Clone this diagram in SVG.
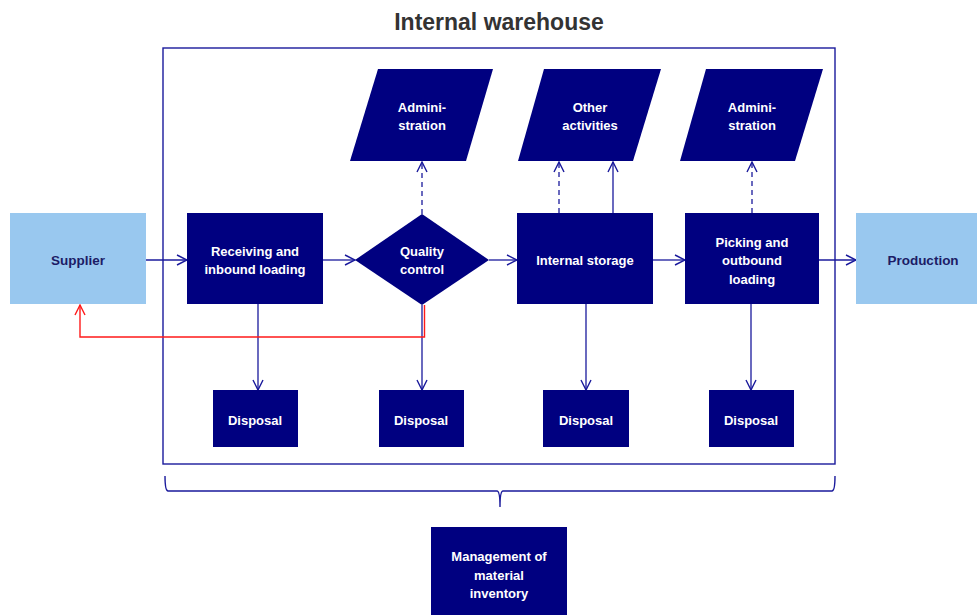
<svg xmlns="http://www.w3.org/2000/svg" width="977" height="615" viewBox="0 0 977 615">
  <defs>
    <marker id="arrow" viewBox="0 0 12 12" refX="11" refY="6" markerWidth="12" markerHeight="12" markerUnits="userSpaceOnUse" orient="auto">
      <path d="M1,1 L11,6 L1,11" fill="none" stroke="#1a1a9c" stroke-width="1.4"/>
    </marker>
    <marker id="arrow-red" viewBox="0 0 12 12" refX="11" refY="6" markerWidth="12" markerHeight="12" markerUnits="userSpaceOnUse" orient="auto">
      <path d="M1,1 L11,6 L1,11" fill="none" stroke="#ff1a1a" stroke-width="1.4"/>
    </marker>
  </defs>
  <style>
    .dark { fill: #000080; }
    .light { fill: #99c8ef; }
    .wt { fill: #ffffff; font-family: "Liberation Sans", Arial, sans-serif; font-weight: bold; font-size: 13px; text-anchor: middle; }
    .nt { fill: #1c1c66; font-family: "Liberation Sans", Arial, sans-serif; font-weight: bold; font-size: 13.5px; text-anchor: middle; }
    .conn { fill: none; stroke: #1a1a9c; stroke-width: 1.3; }
    .dash { stroke-dasharray: 5 4; }
    .red { fill: none; stroke: #ff1a1a; stroke-width: 1.4; }
    .frame { fill: none; stroke: #1a1a9c; stroke-width: 1.4; }
  </style>
  <rect width="977" height="615" fill="#ffffff"/>

  <!-- title and warehouse boundary -->
  <text x="499" y="30" font-family="Liberation Sans, Arial, sans-serif" font-weight="bold" font-size="23" fill="#333333" text-anchor="middle">Internal warehouse</text>
  <rect class="frame" x="163" y="48" width="672" height="416"/>

  <!-- brace grouping the warehouse -->
  <path class="frame" d="M165,476 Q165,491 168,491 L497,491 Q500,491 500,507 Q500,491 503,491 L832,491 Q835,491 835,476"/>

  <g id="connectors">
    <line class="conn" x1="146" y1="260" x2="187" y2="260" marker-end="url(#arrow)"/>
    <line class="conn" x1="323" y1="260" x2="355" y2="260" marker-end="url(#arrow)"/>
    <line class="conn" x1="489" y1="260" x2="517" y2="260" marker-end="url(#arrow)"/>
    <line class="conn" x1="653" y1="260" x2="685" y2="260" marker-end="url(#arrow)"/>
    <line class="conn" x1="819" y1="260" x2="856" y2="260" marker-end="url(#arrow)"/>

    <line class="conn dash" x1="422" y1="214" x2="422" y2="162" marker-end="url(#arrow)"/>
    <line class="conn dash" x1="559" y1="213" x2="559" y2="162" marker-end="url(#arrow)"/>
    <line class="conn" x1="613" y1="213" x2="613" y2="162" marker-end="url(#arrow)"/>
    <line class="conn dash" x1="752" y1="213" x2="752" y2="162" marker-end="url(#arrow)"/>

    <line class="conn" x1="258" y1="304" x2="258" y2="390" marker-end="url(#arrow)"/>
    <line class="conn" x1="422" y1="305" x2="422" y2="390" marker-end="url(#arrow)"/>
    <line class="conn" x1="586" y1="304" x2="586" y2="390" marker-end="url(#arrow)"/>
    <line class="conn" x1="751" y1="304" x2="751" y2="390" marker-end="url(#arrow)"/>

    <path class="red" d="M424.5,305 L424.5,337 L80,337 L80,305" marker-end="url(#arrow-red)"/>
  </g>

  <g id="supplier">
    <rect class="light" x="10" y="213" width="136" height="91"/>
    <text class="nt" x="78" y="265">Supplier</text>
  </g>

  <g id="receiving">
    <rect class="dark" x="187" y="213" width="136" height="91"/>
    <text class="wt" x="255" y="256">Receiving and</text>
    <text class="wt" x="255" y="274">inbound loading</text>
  </g>

  <g id="quality-control">
    <polygon class="dark" points="422,214 489,260 422,305 355,260"/>
    <text class="wt" x="422" y="256">Quality</text>
    <text class="wt" x="422" y="274">control</text>
  </g>

  <g id="internal-storage">
    <rect class="dark" x="517" y="213" width="136" height="91"/>
    <text class="wt" x="585" y="265">Internal storage</text>
  </g>

  <g id="picking">
    <rect class="dark" x="685" y="213" width="134" height="91"/>
    <text class="wt" x="752" y="247">Picking and</text>
    <text class="wt" x="752" y="265">outbound</text>
    <text class="wt" x="752" y="284">loading</text>
  </g>

  <g id="production">
    <rect class="light" x="856" y="213" width="121" height="91"/>
    <text class="nt" x="923" y="265">Production</text>
  </g>

  <g id="administration-1">
    <polygon class="dark" points="378,69 493,69 466,161 350,161"/>
    <text class="wt" x="422" y="112">Admini-</text>
    <text class="wt" x="422" y="130">stration</text>
  </g>

  <g id="other-activities">
    <polygon class="dark" points="544,69 661,69 633,161 518,161"/>
    <text class="wt" x="590" y="112">Other</text>
    <text class="wt" x="590" y="130">activities</text>
  </g>

  <g id="administration-2">
    <polygon class="dark" points="706,69 823,69 795,161 680,161"/>
    <text class="wt" x="752" y="112">Admini-</text>
    <text class="wt" x="752" y="130">stration</text>
  </g>

  <g id="disposal-1">
    <rect class="dark" x="213" y="390" width="85" height="57"/>
    <text class="wt" x="255" y="425">Disposal</text>
  </g>
  <g id="disposal-2">
    <rect class="dark" x="379" y="390" width="85" height="57"/>
    <text class="wt" x="421" y="425">Disposal</text>
  </g>
  <g id="disposal-3">
    <rect class="dark" x="543" y="390" width="86" height="57"/>
    <text class="wt" x="586" y="425">Disposal</text>
  </g>
  <g id="disposal-4">
    <rect class="dark" x="709" y="390" width="85" height="57"/>
    <text class="wt" x="751" y="425">Disposal</text>
  </g>

  <g id="inventory-management">
    <rect class="dark" x="431" y="527" width="136" height="88"/>
    <text class="wt" x="499" y="561">Management of</text>
    <text class="wt" x="499" y="580">material</text>
    <text class="wt" x="499" y="598">inventory</text>
  </g>
</svg>
